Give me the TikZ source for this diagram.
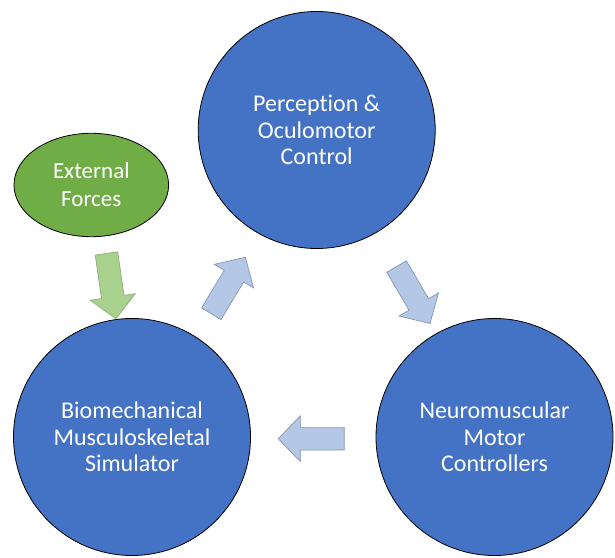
\documentclass[tikz,border=0pt]{standalone}
\usepackage{fontspec}
\setmainfont{Carlito}[Ligatures=NoCommon]
\usetikzlibrary{shapes.geometric,shapes.arrows}
\definecolor{stageblue}{HTML}{4472C4}
\definecolor{forcegreen}{HTML}{70AD47}
\definecolor{flowfill}{HTML}{B4C7E7}
\definecolor{flowline}{HTML}{8497B0}
\definecolor{pushfill}{HTML}{A9D18E}
\definecolor{pushline}{HTML}{8FAF7A}
\tikzset{
  stage/.style={circle, draw=black, line width=0.8pt, fill=stageblue,
    minimum size=237pt, inner sep=0pt, text=white, align=center,
    font=\fontsize{24}{26.5}\selectfont},
  force/.style={ellipse, draw=black, line width=0.8pt, fill=forcegreen,
    minimum width=154.6pt, minimum height=103.4pt, inner sep=0pt,
    text=white, align=center, font=\fontsize{23}{28}\selectfont},
  flow/.style={single arrow, draw=flowline, fill=flowfill, line width=0.7pt,
    minimum height=66pt, minimum width=45pt, inner xsep=0pt, inner ysep=11pt,
    single arrow head extend=11.5pt, single arrow tip angle=92},
  push/.style={flow, draw=pushline, fill=pushfill}
}
\begin{document}
\begin{tikzpicture}[x=1pt,y=1pt]
  \useasboundingbox (0,0) rectangle (615,557);
  % the three stages of the loop
  \node[stage] (percep) at (316.7,427) {Perception \&\\Oculomotor\\Control};
  \node[stage] (biomech) at (132,120) {Biomechanical\\Musculoskeletal\\Simulator};
  \node[stage] (neuro) at (494.5,120) {Neuromuscular\\Motor\\Controllers};
  % outside influence
  \node[force] (ext) at (91.3,372) {External\\Forces};
  % flow arrows between the stages
  \node[flow, rotate=58.9] (a1) at (225.5,266.8) {};
  \node[flow, rotate=-59.6] (a2) at (410.5,266.7) {};
  \node[flow, rotate=180] (a3) at (316.7,118.3) {};
  \node[push, rotate=-81.8] (a4) at (110.4,276.3) {};
\end{tikzpicture}
\end{document}
